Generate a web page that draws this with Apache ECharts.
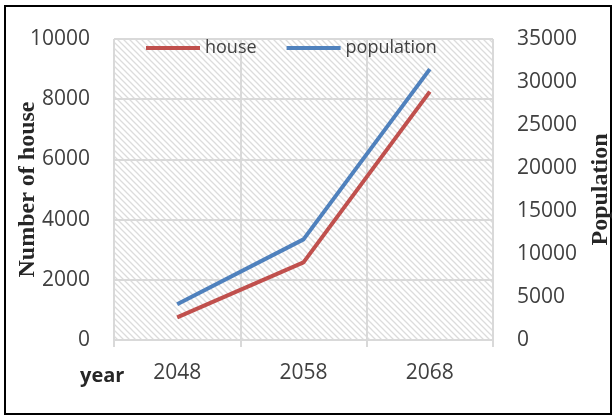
<!DOCTYPE html>
<html>
<head>
<meta charset="utf-8">
<script src="https://cdn.jsdelivr.net/npm/echarts@6/dist/echarts.min.js"></script>
<style>
  html, body { margin: 0; padding: 0; background: #fff; }
  #chart { width: 616px; height: 416px; }
</style>
</head>
<body>
<div id="chart"></div>
<script>
const years = ['2048', '2058', '2068']
const house = [750, 2580, 8250]
const population = [4150, 11700, 31500]
const leftTicks = { min: 0, max: 10000, interval: 2000 }
const rightTicks = { min: 0, max: 35000, interval: 5000 }

// hatch pattern for the plot area
function hatch() {
  const c = document.createElement('canvas')
  c.width = 6
  c.height = 6
  const ctx = c.getContext('2d')
  ctx.fillStyle = '#ffffff'
  ctx.fillRect(0, 0, 6, 6)
  ctx.strokeStyle = '#dcdcdc'
  ctx.lineWidth = 1.3
  ctx.beginPath()
  ctx.moveTo(-1, -1); ctx.lineTo(7, 7)
  ctx.moveTo(-4, 2); ctx.lineTo(4, 10)
  ctx.moveTo(2, -4); ctx.lineTo(10, 4)
  ctx.stroke()
  return c
}

const font = '"Open Sans", sans-serif'
const serif = '"Liberation Serif", "DejaVu Serif", serif'
const plain = v => String(v)

let chart = echarts.init(document.getElementById('chart'))
chart.setOption({
  animation: false,
  backgroundColor: '#ffffff',
  grid: {
    left: 114,
    right: 123,
    top: 39,
    bottom: 76,
    outerBoundsMode: 'none',
    show: true,
    borderWidth: 0,
    backgroundColor: { image: hatch(), repeat: 'repeat' }
  },
  legend: {
    data: ['house', 'population'],
    left: 146,
    top: 39,
    padding: 0,
    icon: 'rect',
    itemWidth: 54,
    itemHeight: 4,
    itemGap: 30,
    textStyle: { fontFamily: font, fontSize: 18, color: '#404040' }
  },
  graphic: [
    {
      type: 'rect',
      shape: { x: 5, y: 6, width: 606, height: 408 },
      style: { fill: 'none', stroke: '#000', lineWidth: 2 },
      silent: true
    },
    {
      type: 'text',
      left: 80,
      top: 366,
      style: { text: 'year', font: 'bold 20px ' + font, fill: '#262626' }
    }
  ],
  xAxis: {
    type: 'category',
    data: years,
    boundaryGap: true,
    axisLine: { lineStyle: { color: '#d9d9d9', width: 2 } },
    axisTick: { show: true, length: 7, lineStyle: { color: '#d9d9d9', width: 2 } },
    splitLine: { show: true, lineStyle: { color: '#d9d9d9', width: 2 } },
    axisLabel: { fontFamily: font, fontSize: 21, color: '#404040', margin: 23 }
  },
  yAxis: [
    {
      type: 'value',
      min: leftTicks.min,
      max: leftTicks.max,
      interval: leftTicks.interval,
      name: 'Number of house',
      nameLocation: 'middle',
      nameGap: 74,
      nameMoveOverlap: false,
      nameRotate: 90,
      nameTextStyle: { fontFamily: serif, fontSize: 24, fontWeight: 'bold', color: '#262626' },
      axisLine: { show: false },
      axisTick: { show: false },
      splitLine: { lineStyle: { color: '#d9d9d9', width: 2 } },
      axisLabel: { fontFamily: font, fontSize: 21, color: '#404040', margin: 24, formatter: plain }
    },
    {
      type: 'value',
      min: rightTicks.min,
      max: rightTicks.max,
      interval: rightTicks.interval,
      name: 'Population',
      nameLocation: 'middle',
      nameGap: 96,
      nameMoveOverlap: false,
      nameRotate: 90,
      nameTextStyle: { fontFamily: serif, fontSize: 24, fontWeight: 'bold', color: '#262626' },
      axisLine: { show: false },
      axisTick: { show: false },
      splitLine: { show: false },
      axisLabel: { fontFamily: font, fontSize: 21, color: '#404040', margin: 24, formatter: plain }
    }
  ],
  series: [
    {
      name: 'house',
      type: 'line',
      yAxisIndex: 0,
      data: house,
      color: '#c0504d',
      symbol: 'none',
      lineStyle: { width: 4, color: '#c0504d' }
    },
    {
      name: 'population',
      type: 'line',
      yAxisIndex: 1,
      data: population,
      color: '#4f81bd',
      symbol: 'none',
      lineStyle: { width: 4, color: '#4f81bd' }
    }
  ]
})
</script>
</body>
</html>
